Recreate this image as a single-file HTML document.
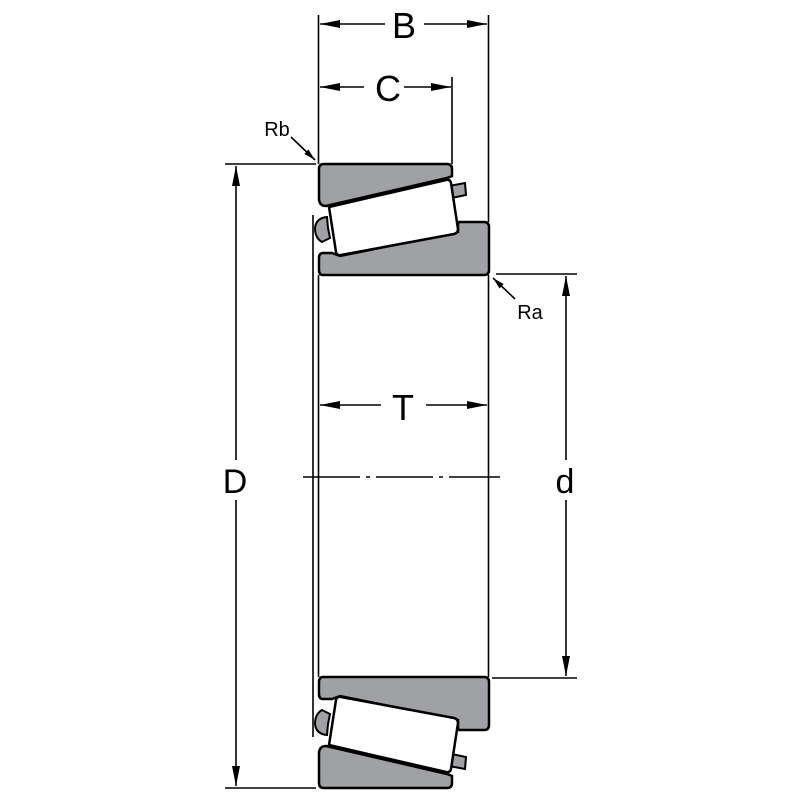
<!DOCTYPE html>
<html><head><style>html,body{margin:0;padding:0;background:#fff}svg{display:block}</style></head>
<body>
<svg width="800" height="800" viewBox="0 0 800 800" xmlns="http://www.w3.org/2000/svg" font-family="Liberation Sans, sans-serif">
<defs>
<marker id="a" viewBox="0 0 20 8" refX="20" refY="4" markerWidth="20" markerHeight="8" markerUnits="userSpaceOnUse" orient="auto"><path d="M0,0 L20,4 L0,8 Z" fill="#000"/></marker>
<marker id="s" viewBox="0 0 12 6" refX="12" refY="3" markerWidth="12" markerHeight="6" markerUnits="userSpaceOnUse" orient="auto"><path d="M0,0 L12,3 L0,6 Z" fill="#000"/></marker>
<g id="half">
  <!-- cup -->
  <path d="M324,164 H447 Q452,164 452,169 V176 L447,178 L326,206 Q320,206 319,200 V169 Q319,164 324,164 Z" fill="#a0a1a4" stroke="#000" stroke-width="2.5"/>
  <!-- cage bits -->
  <path d="M449,186 L465,183 L466,195 L452,198 Z" fill="#a0a1a4" stroke="#000" stroke-width="2"/>
  <path d="M327,217 Q316,218 315,228 Q315,238 322,242 L330,238 L328,228 Z" fill="#a0a1a4" stroke="#000" stroke-width="2"/>
  <!-- cone -->
  <path d="M323,253 H332 L340,256 L458,232 V222 H484 Q489,222 489,227 V270 Q489,275 484,275 H323 Q319,275 319,270 V258 Q319,253 323,253 Z" fill="#a0a1a4" stroke="#000" stroke-width="2.5"/>
  <!-- roller -->
  <path d="M329,207 L446,180 Q450,179 451,183 L458,229 Q458,233 454,234 L341,255 Q337,256 336,252 Z" fill="#fff" stroke="#000" stroke-width="2.5"/>
</g>
</defs>
<use href="#half"/>
<use href="#half" transform="translate(0,952) scale(1,-1)"/>
<g stroke="#000" stroke-width="1.6" fill="none">
  <line x1="313" y1="215" x2="313" y2="737"/>
  <line x1="318.5" y1="15" x2="318.5" y2="164"/>
  <line x1="318.5" y1="275" x2="318.5" y2="677"/>
  <line x1="488.5" y1="15" x2="488.5" y2="222"/>
  <line x1="488.5" y1="275" x2="488.5" y2="677"/>
  <line x1="452" y1="77" x2="452" y2="164"/>
  <line x1="225" y1="164" x2="316" y2="164"/>
  <line x1="225" y1="788" x2="316" y2="788"/>
  <line x1="496" y1="274" x2="577" y2="274"/>
  <line x1="492" y1="678" x2="577" y2="678"/>
  <line x1="303" y1="477" x2="500" y2="477" stroke-dasharray="57,6,4,6"/>
  <!-- B -->
  <line x1="385" y1="24" x2="320" y2="24" marker-end="url(#a)"/>
  <line x1="424" y1="24" x2="487" y2="24" marker-end="url(#a)"/>
  <!-- C -->
  <line x1="364" y1="87" x2="320" y2="87" marker-end="url(#a)"/>
  <line x1="404" y1="87" x2="451" y2="87" marker-end="url(#a)"/>
  <!-- T -->
  <line x1="381" y1="405" x2="320" y2="405" marker-end="url(#a)"/>
  <line x1="426" y1="405" x2="487" y2="405" marker-end="url(#a)"/>
  <!-- D -->
  <line x1="236" y1="460" x2="236" y2="166" marker-end="url(#a)"/>
  <line x1="236" y1="500" x2="236" y2="786" marker-end="url(#a)"/>
  <!-- d -->
  <line x1="566" y1="460" x2="566" y2="276" marker-end="url(#a)"/>
  <line x1="566" y1="500" x2="566" y2="676" marker-end="url(#a)"/>
  <!-- leaders -->
  <line x1="291" y1="137" x2="315" y2="160" marker-end="url(#s)"/>
  <line x1="515" y1="299" x2="493" y2="278" marker-end="url(#s)"/>
</g>
<g fill="#000" text-anchor="middle">
  <text x="404" y="38" font-size="36">B</text>
  <text x="388" y="101" font-size="36">C</text>
  <text x="403" y="420" font-size="36">T</text>
  <text x="235" y="493" font-size="34">D</text>
  <text x="565" y="493" font-size="34">d</text>
  <text x="277" y="136" font-size="20">Rb</text>
  <text x="530" y="319" font-size="20">Ra</text>
</g>
</svg>
</body></html>
